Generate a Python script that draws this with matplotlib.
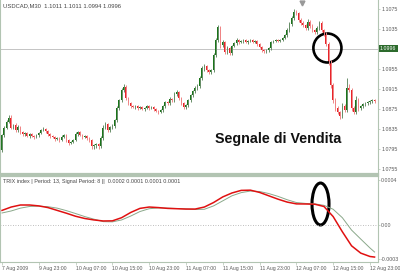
import numpy as np
import matplotlib
matplotlib.use("Agg")
import matplotlib.pyplot as plt
from matplotlib.patches import Ellipse

plt.rcParams['font.family'] = ['Liberation Sans', 'DejaVu Sans']

# --- data: USDCAD M30 candles (close + wick sizes in pips) ---
first_open = 1.0793
closes = [
    1.0823, 1.0837, 1.0849, 1.0857, 1.0837, 1.0843, 1.0833, 1.0839, 1.0829, 1.0825,
    1.0827, 1.0821, 1.0825, 1.0821, 1.0819, 1.0823, 1.0827, 1.0833, 1.0835, 1.0831,
    1.0825, 1.0821, 1.0819, 1.0815, 1.0817, 1.0813, 1.0819, 1.0823, 1.0813, 1.0807,
    1.0809, 1.0813, 1.0825, 1.0829, 1.0823, 1.0819, 1.0821, 1.0817, 1.0813, 1.0801,
    1.0803, 1.0805, 1.0801, 1.0817, 1.0837, 1.0845, 1.0833, 1.0839, 1.0841, 1.0853,
    1.0877, 1.0893, 1.0913, 1.0919, 1.0897, 1.0887, 1.0881, 1.0879, 1.0881, 1.0877,
    1.0879, 1.0875, 1.0877, 1.0881, 1.0877, 1.0879, 1.0875, 1.0871, 1.0869, 1.0873,
    1.0881, 1.0889, 1.0887, 1.0895, 1.0893, 1.0905, 1.0909, 1.0897, 1.0887, 1.0879,
    1.0883, 1.0893, 1.0903, 1.0911, 1.0917, 1.0921, 1.0937, 1.0957, 1.0961, 1.0953,
    1.0949, 1.0953, 1.0983, 1.1013, 1.1039, 1.1003, 1.1009, 1.0989, 1.0997, 1.0987,
    1.1001, 1.1007, 1.1013, 1.1009, 1.1011, 1.1013, 1.1009, 1.1011, 1.1013, 1.1009,
    1.1011, 1.1005, 1.0999, 1.0993, 1.0991, 1.0993, 1.0997, 1.1009, 1.1011, 1.1013,
    1.1011, 1.1013, 1.1017, 1.1023, 1.1033, 1.1045, 1.1057, 1.1069, 1.1067, 1.1053,
    1.1047, 1.1043, 1.1037, 1.1049, 1.1041, 1.1033, 1.1029, 1.1037, 1.1047, 1.1033,
    1.1025, 1.1005, 1.0969, 1.0923, 1.0893, 1.0877, 1.0869, 1.0861, 1.0881, 1.0873,
    1.0917, 1.0913, 1.0877, 1.0869, 1.0893, 1.0877, 1.0881, 1.0885, 1.0887, 1.0889,
    1.0891, 1.0893, 1.0891,
]
wick_up = [
    2, 4, 4, 6, 6, 3, 4, 5, 3, 3,
    2, 3, 2, 3, 2, 3, 2, 3, 4, 2,
    3, 2, 2, 3, 2, 2, 4, 3, 2, 2,
    2, 3, 4, 2, 3, 2, 3, 2, 2, 2,
    3, 2, 2, 4, 6, 4, 3, 2, 4, 3,
    4, 3, 4, 6, 4, 3, 2, 2, 3, 2,
    2, 2, 2, 3, 2, 2, 2, 2, 2, 3,
    3, 3, 2, 4, 3, 4, 4, 2, 2, 2,
    3, 3, 3, 3, 4, 4, 4, 4, 4, 3,
    3, 3, 4, 4, 4, 3, 4, 3, 4, 3,
    3, 3, 4, 2, 3, 2, 2, 2, 3, 2,
    2, 2, 2, 2, 2, 3, 2, 3, 2, 2,
    2, 3, 3, 3, 4, 4, 4, 6, 4, 3,
    4, 4, 3, 6, 4, 4, 3, 4, 4, 4,
    3, 4, 4, 4, 4, 4, 4, 3, 6, 4,
    20, 8, 4, 4, 8, 4, 3, 3, 3, 3,
    3, 3, 3,
]
wick_dn = [
    4, 3, 3, 2, 3, 3, 3, 3, 3, 3,
    3, 2, 3, 2, 3, 2, 3, 2, 2, 3,
    3, 3, 2, 3, 2, 3, 2, 2, 3, 3,
    2, 2, 2, 3, 2, 3, 2, 3, 3, 6,
    6, 6, 6, 4, 3, 3, 3, 3, 3, 3,
    4, 3, 4, 4, 4, 4, 3, 2, 3, 3,
    2, 2, 3, 2, 3, 2, 3, 2, 3, 2,
    3, 3, 3, 3, 3, 3, 3, 4, 3, 3,
    3, 3, 3, 3, 3, 3, 4, 4, 6, 4,
    4, 4, 4, 4, 4, 6, 4, 4, 4, 4,
    3, 3, 3, 3, 2, 3, 2, 3, 2, 2,
    2, 3, 3, 3, 3, 3, 3, 3, 2, 2,
    2, 2, 2, 2, 3, 3, 3, 3, 4, 4,
    4, 4, 4, 4, 4, 4, 4, 4, 3, 4,
    3, 4, 6, 6, 6, 6, 4, 6, 4, 4,
    4, 4, 6, 4, 4, 6, 3, 3, 3, 3,
    3, 3, 3,
]
hline_price = 1.0996
price_ticks = [1.1075, 1.1035, 1.0955, 1.0915, 1.0875, 1.0835, 1.0795, 1.0755]

# --- TRIX (sampled every 4 bars) ---
trix_idx = list(range(0, 161, 4)) + [162]
trix_main = [
    0.000130, 0.000160, 0.000178, 0.000178, 0.000170, 0.000155, 0.000130, 0.000105, 0.000078, 0.000058,
    0.000045, 0.000036, 0.000037, 0.000065, 0.000112, 0.000148, 0.000160, 0.000155, 0.000148, 0.000145,
    0.000142, 0.000142, 0.000160, 0.000200, 0.000250, 0.000285, 0.000308, 0.000310, 0.000290, 0.000260,
    0.000230, 0.000204, 0.000188, 0.000187, 0.000185, 0.000165, 0.000075, -0.000060, -0.000185, -0.000250,
    -0.000280, -0.000285,
]
trix_signal = [
    0.000107, 0.000125, 0.000150, 0.000165, 0.000168, 0.000163, 0.000150, 0.000128, 0.000102, 0.000075,
    0.000052, 0.000030, 0.000028, 0.000045, 0.000080, 0.000120, 0.000145, 0.000152, 0.000150, 0.000147,
    0.000143, 0.000138, 0.000140, 0.000170, 0.000215, 0.000260, 0.000288, 0.000302, 0.000298, 0.000280,
    0.000255, 0.000225, 0.000200, 0.000192, 0.000188, 0.000175, 0.000140, 0.000065, -0.000045, -0.000125,
    -0.000204, -0.000240,
]
trix_ticks = [0.0004, 0.0, -0.0003]
trix_ticklabels = ['0.0004', '0.00', '-0.0003']

time_labels = ['7 Aug 2009', '9 Aug 23:00', '10 Aug 07:00', '10 Aug 15:00', '10 Aug 23:00',
               '11 Aug 07:00', '11 Aug 15:00', '11 Aug 23:00', '12 Aug 07:00', '12 Aug 15:00',
               '12 Aug 23:00']
time_idx = [0, 16, 32, 48, 64, 80, 96, 112, 128, 144, 160]

signal_bar = 141

# --- build candles ---
closes = np.array(closes)
opens = np.concatenate([[first_open], closes[:-1]])
highs = np.maximum(opens, closes) + np.array(wick_up) * 0.0001
lows = np.minimum(opens, closes) - np.array(wick_dn) * 0.0001
idx = np.arange(len(closes))
bull = closes >= opens

frame = '#b2c4b2'
txt = '#5a5a5a'
W, H = 400, 271

fig = plt.figure(figsize=(4, 2.71), dpi=100)
fig.patch.set_facecolor('white')

ax = fig.add_axes([0, (H - 174) / H, 378 / W, 174 / H])
ax2 = fig.add_axes([0, (H - 262) / H, 378 / W, 86 / H])

xlim = (-0.87, 163.5)

# --- price panel ---
ax.vlines(idx[bull], lows[bull], highs[bull], color='#6a8f6a', lw=0.7)
ax.vlines(idx[~bull], lows[~bull], highs[~bull], color='#f08888', lw=0.7)
body = np.where(np.abs(closes - opens) < 0.00008, 0.00008, closes - opens)
ax.bar(idx[bull], body[bull], bottom=opens[bull], width=0.72, color='#1a751a', lw=0)
ax.bar(idx[~bull], body[~bull], bottom=opens[~bull], width=0.72, color='#e8242a', lw=0)
ax.axhline(hline_price, color='#c4c4c4', lw=0.7, zorder=0)

ax.set_xlim(*xlim)
ax.set_ylim(1.0745, 1.1093)
ax.set_xticks([])
ax.yaxis.tick_right()
ax.set_yticks(price_ticks)
ax.set_yticklabels([f'{p:.4f}' for p in price_ticks])
ax.tick_params(axis='y', length=1.5, width=0.5, color=frame, pad=0.8, labelsize=3.8, labelcolor=txt)
for s in ax.spines.values():
    s.set_color(frame)
    s.set_linewidth(0.8)
ax.spines['bottom'].set_linewidth(1.6)
ax.spines['top'].set_visible(False)

ax.text(1.0 + 2 / 378, hline_price, '1.0996', transform=ax.get_yaxis_transform(),
        fontsize=3.8, color='white', va='center', ha='left', clip_on=False,
        bbox=dict(boxstyle='square,pad=0.25', fc='#2d6b2d', ec='none'))
ax.text(3 / 378, 1 - 6 / 174, 'USDCAD,M30  1.1011 1.1011 1.0994 1.0996', transform=ax.transAxes,
        fontsize=4.2, color='#444444', va='center', ha='left')
ax.plot([302 / 378], [1 - 2.5 / 174], marker='v', ms=3.5, color='#999999',
        transform=ax.transAxes, clip_on=False)

ax.add_patch(Ellipse((signal_bar + 0.5, 1.0997), 12.2, 0.0058, fill=False, ec='black', lw=1.9))
fig.text(215 / W, 1 - 143 / H, 'Segnale di Vendita', fontsize=10.3, fontweight='bold',
         family='Liberation Sans', color='#111111', ha='left', va='baseline')

# --- TRIX panel ---
ax2.axhline(0, color='#a8a8a8', lw=0.6, ls=(0, (1, 2)))
ax2.plot(trix_idx, trix_signal, color='#8aa88a', lw=0.7)
ax2.plot(trix_idx, trix_main, color='#e01010', lw=1.1)
ax2.add_patch(Ellipse((signal_bar - 2.5, 0.000187), 7.4, 0.000373, fill=False, ec='black', lw=2.2))

ax2.set_xlim(*xlim)
ax2.set_ylim(-0.000329, 0.000436)
ax2.yaxis.tick_right()
ax2.set_yticks(trix_ticks)
ax2.set_yticklabels(trix_ticklabels)
ax2.set_xticks(time_idx)
ax2.set_xticklabels(time_labels, ha='left')
ax2.tick_params(axis='y', length=1.5, width=0.5, color=frame, pad=0.8, labelsize=3.8, labelcolor=txt)
ax2.tick_params(axis='x', length=2, width=0.5, color=frame, pad=1, labelsize=3.7, labelcolor=txt)
for s in ax2.spines.values():
    s.set_color(frame)
    s.set_linewidth(0.8)
ax2.spines['top'].set_linewidth(1.6)
ax2.text(3 / 378, 1 - 5 / 86, 'TRIX index | Period: 13, Signal Period: 8 ||  0.0002 0.0001 0.0001 0.0001',
         transform=ax2.transAxes, fontsize=3.9, color='#444444', va='center', ha='left')

fig.savefig('out.png', dpi=100)
